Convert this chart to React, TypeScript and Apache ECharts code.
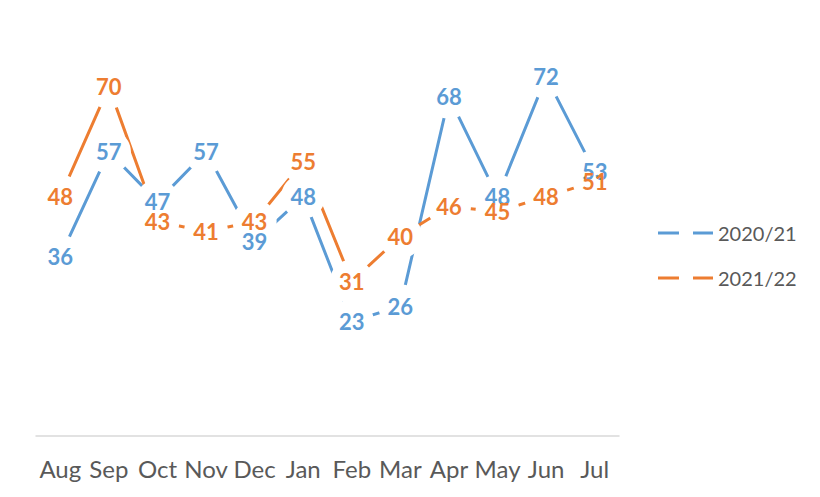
import React, { useEffect, useRef } from "react";
import * as echarts from "echarts";

const categories = ["Aug", "Sep", "Oct", "Nov", "Dec", "Jan", "Feb", "Mar", "Apr", "May", "Jun", "Jul"];
const series2021 = [36, 57, 47, 57, 39, 48, 23, 26, 68, 48, 72, 53];
const series2122 = [48, 70, 43, 41, 43, 55, 31, 40, 46, 45, 48, 51];
const seriesNames = ["2020/21", "2021/22"];
const yMin = 0;
const yMax = 80;

const BLUE = "#5B9BD5";
const ORANGE = "#ED7D31";
const FONT = "Lato";

export default function App() {
  const ref = useRef<HTMLDivElement>(null);
  useEffect(() => {
    document.body.style.margin = "0";
    if (!ref.current) return;
    const chart = echarts.init(ref.current, null, { renderer: "svg" });
    const lineSeries = (name: string, data: number[], color: string) => ({
      name,
      type: "line",
      data,
      color,
      symbol: "none",
      z: 2,
      lineStyle: { color, width: 3 },
      silent: true,
    });
    const markerSeries = (name: string, data: number[]) => ({
      name,
      type: "scatter",
      data,
      symbol: "circle",
      symbolSize: 44,
      itemStyle: { color: "#ffffff", opacity: 1 },
      z: 3,
      silent: true,
    });
    const labelSeries = (name: string, data: number[], color: string, z: number) => ({
      name,
      type: "scatter",
      data,
      symbol: "circle",
      symbolSize: 1,
      itemStyle: { color: "rgba(0,0,0,0)", opacity: 1 },
      z,
      silent: true,
      label: {
        show: true,
        position: "inside",
        color,
        opacity: 1,
        fontFamily: FONT,
        fontWeight: "bold",
        fontSize: 22,
        formatter: (p: any) => String(p.value),
      },
    });
    const legendIcon = "path://M0,0H21V3H0Z M35,0H55V3H35Z";
    chart.setOption({
      animation: false,
      backgroundColor: "#ffffff",
      grid: { left: 36, right: 201, top: 37, bottom: 61, containLabel: false },
      legend: {
        orient: "vertical",
        left: 653,
        top: 218,
        itemWidth: 55,
        itemHeight: 3,
        itemGap: 25,
        icon: legendIcon,
        data: seriesNames,
        textStyle: { fontFamily: FONT, fontSize: 20, color: "#595959" },
        selectedMode: false,
      },
      xAxis: {
        type: "category",
        data: categories,
        boundaryGap: true,
        axisLine: { show: true, lineStyle: { color: "#D9D9D9", width: 1.5 } },
        axisTick: { show: false },
        axisLabel: { fontFamily: FONT, fontSize: 24, color: "#595959", margin: 20, interval: 0 },
      },
      yAxis: {
        type: "value",
        min: yMin,
        max: yMax,
        show: false,
        splitLine: { show: false },
      },
      series: [
        lineSeries(seriesNames[0], series2021, BLUE),
        lineSeries(seriesNames[1], series2122, ORANGE),
        markerSeries("m1", series2021),
        markerSeries("m2", series2122),
        labelSeries("l1", series2021, BLUE, 4),
        labelSeries("l2", series2122, ORANGE, 5),
      ],
    });
    return () => chart.dispose();
  }, []);
  return <div ref={ref} style={{ width: 820, height: 497 }} />;
}
